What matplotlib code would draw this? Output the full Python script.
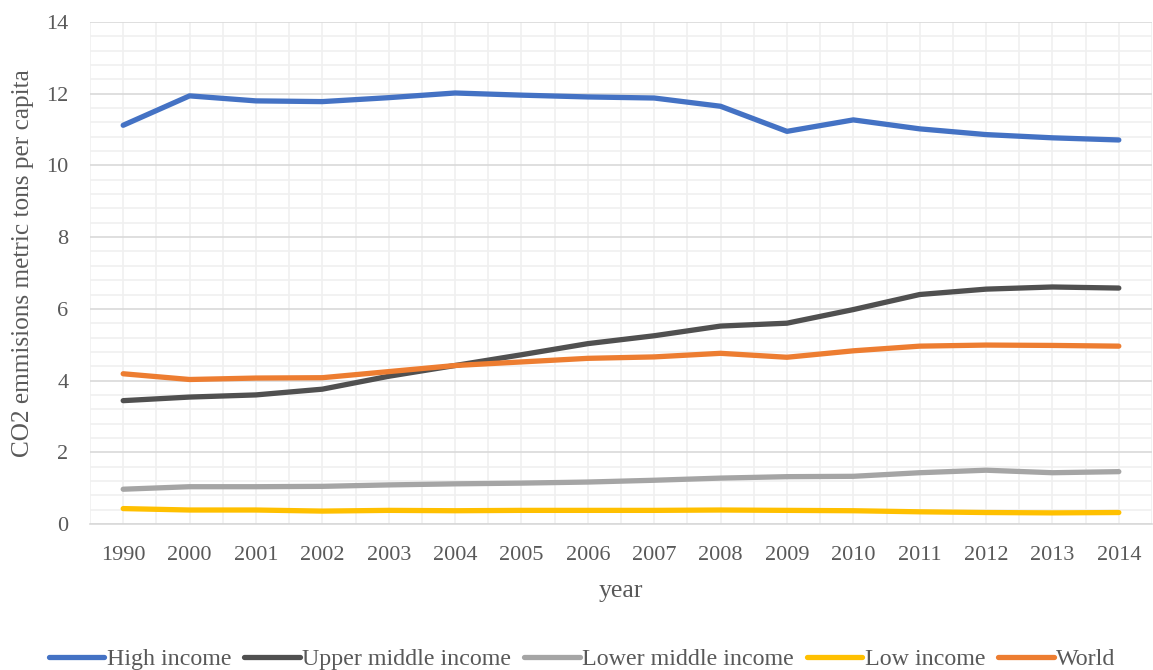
import numpy as np
import matplotlib
matplotlib.use('Agg')
import matplotlib.pyplot as plt
from matplotlib.ticker import MultipleLocator

# data
years = ['1990', '2000', '2001', '2002', '2003', '2004', '2005', '2006',
         '2007', '2008', '2009', '2010', '2011', '2012', '2013', '2014']
high_income = [11.12, 11.94, 11.80, 11.78, 11.89, 12.02, 11.96, 11.91,
               11.88, 11.65, 10.95, 11.27, 11.02, 10.86, 10.77, 10.71]
upper_middle = [3.44, 3.54, 3.60, 3.76, 4.12, 4.42, 4.72, 5.03,
                5.25, 5.52, 5.60, 5.98, 6.40, 6.55, 6.61, 6.58]
lower_middle = [0.97, 1.04, 1.04, 1.05, 1.09, 1.12, 1.14, 1.17,
                1.22, 1.28, 1.32, 1.33, 1.43, 1.50, 1.43, 1.46]
low_income = [0.43, 0.39, 0.39, 0.36, 0.38, 0.37, 0.38, 0.38,
              0.38, 0.39, 0.38, 0.37, 0.34, 0.32, 0.31, 0.32]
world = [4.19, 4.03, 4.07, 4.08, 4.25, 4.42, 4.52, 4.62,
         4.66, 4.76, 4.65, 4.83, 4.96, 4.99, 4.98, 4.96]

series = [('High income', high_income, '#4472C4'),
          ('Upper middle income', upper_middle, '#505050'),
          ('Lower middle income', lower_middle, '#A5A5A5'),
          ('Low income', low_income, '#FFC000'),
          ('World', world, '#ED7D31')]

plt.rcParams['font.family'] = ['Liberation Serif', 'DejaVu Serif']
txt = '#595959'

fig = plt.figure(figsize=(11.53, 6.70), dpi=100)
ax = fig.add_axes([90 / 1153, 1 - 524 / 670, 1062 / 1153, 502 / 670])

x = np.arange(len(years))
for name, vals, col in series:
    ax.plot(x, vals, color=col, lw=3.8, label=name, solid_capstyle='round', zorder=3)

ax.set_xlim(-0.5, len(years) - 0.5)
ax.set_ylim(0, 14)
ax.set_xticks(x)
ax.set_xticklabels(years)
ax.xaxis.set_minor_locator(MultipleLocator(0.5))
ax.yaxis.set_major_locator(MultipleLocator(2))
ax.yaxis.set_minor_locator(MultipleLocator(0.4))

ax.grid(which='major', axis='y', color='#d9d9d9', lw=1.2)
ax.grid(which='minor', axis='y', color='#f0f0f0', lw=1.2)
ax.grid(which='both', axis='x', color='#f0f0f0', lw=1.2)
ax.set_axisbelow(True)

for s in ['top', 'right', 'left']:
    ax.spines[s].set_visible(False)
ax.spines['bottom'].set_color('#d9d9d9')
ax.spines['bottom'].set_linewidth(1.2)

ax.tick_params(which='both', length=0, labelsize=16, labelcolor=txt)
ax.tick_params(axis='x', pad=16)
ax.tick_params(axis='y', pad=15.5)

ax.set_xlabel('year', fontsize=18.5, color=txt, labelpad=11)
ax.set_ylabel('CO2 emmisions metric tons per capita', fontsize=18.2, color=txt)
ax.yaxis.set_label_coords(-0.053, 0.52)

fig.legend(loc='center', bbox_to_anchor=(0.505, 0.016), ncol=5, frameon=False,
           fontsize=17.3, labelcolor=txt, handlelength=2.3, handletextpad=0.1,
           columnspacing=0.55)

plt.savefig('out.png', dpi=100)
